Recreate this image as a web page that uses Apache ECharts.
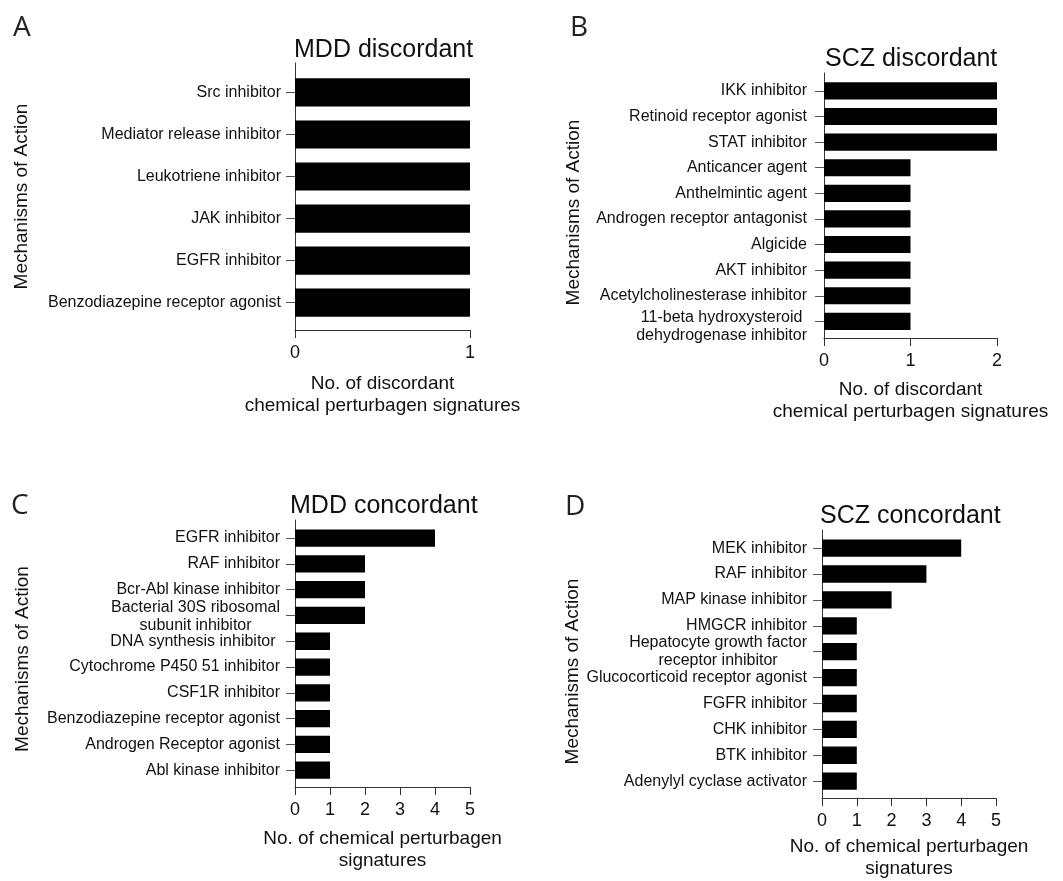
<!DOCTYPE html>
<html><head><meta charset="utf-8">
<script src="https://cdn.jsdelivr.net/npm/echarts@6/dist/echarts.min.js"></script>
<style>html,body{margin:0;padding:0;background:#fff}#c{width:1063px;height:881px}</style>
</head><body><div id="c"></div>
<script>
// ---------- DATA ----------
const catsA = ['Src inhibitor', 'Mediator release inhibitor', 'Leukotriene inhibitor', 'JAK inhibitor', 'EGFR inhibitor', 'Benzodiazepine receptor agonist'];
const valsA = [1, 1, 1, 1, 1, 1];
const xTicksA = ['0', '1'];

const catsB = ['IKK inhibitor', 'Retinoid receptor agonist', 'STAT inhibitor', 'Anticancer agent', 'Anthelmintic agent', 'Androgen receptor antagonist', 'Algicide', 'AKT inhibitor', 'Acetylcholinesterase inhibitor', '11-beta hydroxysteroid\ndehydrogenase inhibitor'];
const valsB = [2, 2, 2, 1, 1, 1, 1, 1, 1, 1];
const xTicksB = ['0', '1', '2'];

const catsC = ['EGFR inhibitor', 'RAF inhibitor', 'Bcr-Abl kinase inhibitor', 'Bacterial 30S ribosomal\nsubunit inhibitor', 'DNA synthesis inhibitor ', 'Cytochrome P450 51 inhibitor', 'CSF1R inhibitor', 'Benzodiazepine receptor agonist', 'Androgen Receptor agonist', 'Abl kinase inhibitor'];
const valsC = [4, 2, 2, 2, 1, 1, 1, 1, 1, 1];
const xTicksC = ['0', '1', '2', '3', '4', '5'];

const catsD = ['MEK inhibitor', 'RAF inhibitor', 'MAP kinase inhibitor', 'HMGCR inhibitor', 'Hepatocyte growth factor\nreceptor inhibitor', 'Glucocorticoid receptor agonist', 'FGFR inhibitor', 'CHK inhibitor', 'BTK inhibitor', 'Adenylyl cyclase activator'];
const valsD = [4, 3, 2, 1, 1, 1, 1, 1, 1, 1];
const xTicksD = ['0', '1', '2', '3', '4', '5'];

const titles = ['MDD discordant', 'SCZ discordant', 'MDD concordant', 'SCZ concordant'];
const letters = ['A', 'B', 'C', 'D'];
const yName = 'Mechanisms of Action';
const xNames = ['No. of discordant\nchemical perturbagen signatures', 'No. of discordant\nchemical perturbagen signatures', 'No. of chemical perturbagen\nsignatures', 'No. of chemical perturbagen\nsignatures'];

// ---------- LAYOUT / STYLE ----------
const FONT = 'Liberation Sans, Arial, sans-serif';
const INK = '#111';
const panels = [
  {cats: catsA, vals: valsA, ticks: xTicksA, grid: {left: 295, top: 63, width: 175, height: 267}, lblMargin: 14, xGap: 43, yGap: 264, yPad: 0, lblShift: {},
   title: {left: 294, top: 38}, letter: {left: 13, top: 14}},
  {cats: catsB, vals: valsB, ticks: xTicksB, grid: {left: 824, top: 73, width: 173, height: 265}, lblMargin: 17, xGap: 41, yGap: 241, yPad: 14, lblShift: {9: 0.2},
   title: {left: 825, top: 47}, letter: {left: 570, top: 14}},
  {cats: catsC, vals: valsC, ticks: xTicksC, grid: {left: 295, top: 520, width: 175, height: 267}, lblMargin: 15, xGap: 41, yGap: 263, yPad: 11, lblShift: {3: 0.05},
   title: {left: 290, top: 494}, letter: {left: 11, top: 492}},
  {cats: catsD, vals: valsD, ticks: xTicksD, grid: {left: 822, top: 530, width: 174, height: 268}, lblMargin: 15, xGap: 38, yGap: 240, yPad: 15, lblShift: {},
   title: {left: 820, top: 504}, letter: {left: 565, top: 493}}
];
const BAR_FRAC = 0.67;

function renderBar(params, api) {
  const v = api.value(0), i = api.value(1);
  const p0 = api.coord([0, i]);
  const p1 = api.coord([v, i]);
  const h = api.size([0, BAR_FRAC])[1];
  return {type: 'rect', shape: {x: p0[0], y: p0[1] - h / 2, width: p1[0] - p0[0], height: h}, style: {fill: '#000'}};
}

function fmtLabel(s) {
  if (s.indexOf('\n') < 0) return s;
  return s.split('\n').map(l => '{c|' + l + '}').join('\n');
}

const grid = [], xAxis = [], yAxis = [], series = [], title = [];
panels.forEach((p, k) => {
  const n = p.cats.length;
  const idx = p.cats.map((_, i) => i);
  const lblPos = idx.map(i => i + (p.lblShift[i] || 0));
  grid.push(Object.assign({containLabel: false}, p.grid));
  xAxis.push({
    gridIndex: k, type: 'value', min: 0, max: p.ticks.length - 1, interval: 1,
    axisLine: {show: true, onZero: false, lineStyle: {color: '#333', width: 1}},
    axisTick: {show: true, length: 8, lineStyle: {color: '#333'}},
    axisLabel: {margin: 14, fontSize: 18, color: INK, fontFamily: FONT, showMinLabel: true, showMaxLabel: true,
      formatter: v => p.ticks[Math.round(v)]},
    splitLine: {show: false},
    name: xNames[k], nameLocation: 'middle', nameGap: p.xGap,
    nameTextStyle: {fontSize: 19, lineHeight: 22, color: INK, fontFamily: FONT, align: 'center'}
  });
  yAxis.push({
    gridIndex: k, type: 'value', inverse: true, min: -0.7, max: n - 0.35,
    axisLine: {show: true, onZero: false, lineStyle: {color: '#333', width: 1}},
    axisTick: {show: true, length: 9, customValues: idx, lineStyle: {color: '#555'}},
    axisLabel: {show: true, customValues: lblPos, margin: p.lblMargin, fontSize: 16, color: INK, fontFamily: FONT,
      showMinLabel: true, showMaxLabel: true, hideOverlap: false,
      formatter: v => fmtLabel(p.cats[Math.round(v)]),
      rich: {
        c: {fontSize: 16, color: INK, fontFamily: FONT, align: 'center', lineHeight: 18.5}
      }},
    splitLine: {show: false},
    name: yName, nameLocation: 'middle', nameGap: p.yGap,
    nameTextStyle: {fontSize: 19, color: INK, fontFamily: FONT, padding: [0, p.yPad, 0, 0]}
  });
  series.push({
    type: 'custom', xAxisIndex: k, yAxisIndex: k, renderItem: renderBar, clip: false, silent: true,
    encode: {x: 0, y: 1},
    data: p.vals.map((v, i) => [v, i])
  });
  title.push({text: titles[k], left: p.title.left, top: p.title.top, padding: 0,
    textStyle: {fontSize: 25, fontWeight: 'normal', color: INK, fontFamily: FONT}});
  title.push({text: letters[k], left: p.letter.left, top: p.letter.top, padding: 0,
    textStyle: {fontSize: 28, fontWeight: 'normal', color: '#222', fontFamily: 'Open Sans, sans-serif'}});
});

const chart = echarts.init(document.getElementById('c'), null, {renderer: 'canvas'});
chart.setOption({animation: false, backgroundColor: '#fff', title, grid, xAxis, yAxis, series});
</script>
</body></html>
